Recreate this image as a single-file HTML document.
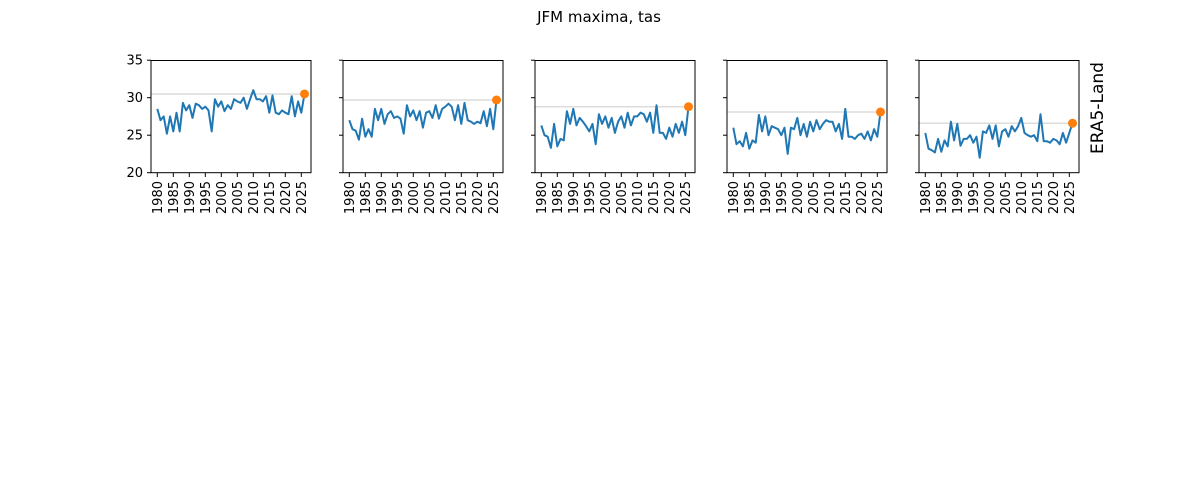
<!DOCTYPE html>
<html><head><meta charset="utf-8"><style>body{margin:0;background:#fff}svg{display:block}</style></head>
<body>
<svg id="s" width="1200" height="500" xmlns="http://www.w3.org/2000/svg" font-family="DejaVu Sans, Liberation Sans, sans-serif">
<rect width="1200" height="500" fill="#fff"/>
<text x="599" y="22" font-size="15" text-anchor="middle">JFM maxima, tas</text>
<text transform="translate(1103,108) rotate(-90)" font-size="17" text-anchor="middle">ERA5-Land</text>
</svg>
<script>
const D=[
[28.5,27,27.5,25.2,27.5,25.5,28,25.5,29.3,28.3,29,27.3,29.2,29,28.5,28.8,28.3,25.5,29.8,28.8,29.5,28.2,29,28.5,29.8,29.5,29.3,30,28.5,29.8,31,29.8,29.8,29.5,30.2,28,30.3,28,27.8,28.3,28,27.8,30.2,27.5,29.5,28,30.5],
[27,25.8,25.6,24.4,27.2,24.8,25.8,24.8,28.5,27,28.5,26.5,27.8,28.2,27.3,27.5,27.2,25.2,29,27.5,28.3,27,28.2,26,28,28.2,27.3,29,27.2,28.5,28.8,29.2,28.8,27,29,26.5,29.3,27,26.8,26.5,26.8,26.6,28.2,26.2,28.5,25.8,29.7],
[26.3,25,24.8,23.3,26.5,23.5,24.5,24.3,28.2,26.5,28.5,26.3,27.3,26.8,26.2,25.5,26.5,23.8,27.8,26.5,27.5,26,27.3,25.3,26.8,27.5,26,28,26.3,27.5,27.5,28,27.8,26.8,28,25.3,29,25.3,25.3,24.5,26,24.8,26.5,25.3,26.8,25,28.8],
[26,23.8,24.2,23.5,25.3,23.2,24.3,24,27.7,25.5,27.5,25,26.2,26,25.8,25,26,22.5,26,25.8,27.3,25,26.5,24.8,26.8,25.5,27,25.8,26.5,27,26.8,26.8,25.5,26.5,24.5,28.5,24.8,24.8,24.5,25,25.2,24.5,25.5,24.3,25.8,24.8,28.1],
[25.3,23.2,23,22.7,24.5,22.8,24.3,23.5,26.8,24.3,26.5,23.6,24.5,24.5,25,24,24.8,22,25.5,25.3,26.3,24.5,26.3,23.5,25.5,25.8,24.8,26.2,25.5,26.2,27.3,25.3,25,24.8,25,24.2,27.8,24.2,24.2,24,24.5,24.3,23.8,25.3,24,25.3,26.6]];
const s=document.getElementById('s');let h='';
const Y=v=>172.7-(v-20)*7.5;
D.forEach((d,p)=>{
 const x0=151+p*192,w=160;
 const n=d.length;const last=d[n-1];
 h+=`<line x1="${x0}" x2="${x0+w-2}" y1="${Y(last)}" y2="${Y(last)}" stroke="#dcdcdc" stroke-width="1.5"/>`;
 const sx=i=>x0+6.3+i*3.2*(46/(n-1));
 h+=`<polyline fill="none" stroke="#1f77b4" stroke-width="2" stroke-linejoin="round" points="${d.map((v,i)=>sx(i).toFixed(1)+','+Y(v).toFixed(1)).join(' ')}"/>`;
 h+=`<circle cx="${sx(n-1)}" cy="${Y(last)}" r="4.5" fill="#ff7f0e"/>`;
 h+=`<rect x="${x0}" y="60.5" width="${w}" height="112.2" fill="none" stroke="#000" stroke-width="1"/>`;
 [35,30,25,20].forEach(v=>{h+=`<line x1="${x0-4}" x2="${x0}" y1="${Y(v)}" y2="${Y(v)}" stroke="#000"/>`;
  if(p==0)h+=`<text x="${x0-8}" y="${Y(v)+4.5}" font-size="13" text-anchor="end">${v}</text>`;});
 for(let k=0;k<10;k++){const yr=1980+5*k,x=x0+6.3+(yr-1980)*3.2;
  h+=`<line x1="${x}" x2="${x}" y1="172.7" y2="177" stroke="#000"/>`;
  h+=`<text transform="translate(${x+4.5},181) rotate(-90)" font-size="13" text-anchor="end">${yr}</text>`;}
});
s.insertAdjacentHTML('beforeend',h);
</script>
</body></html>
